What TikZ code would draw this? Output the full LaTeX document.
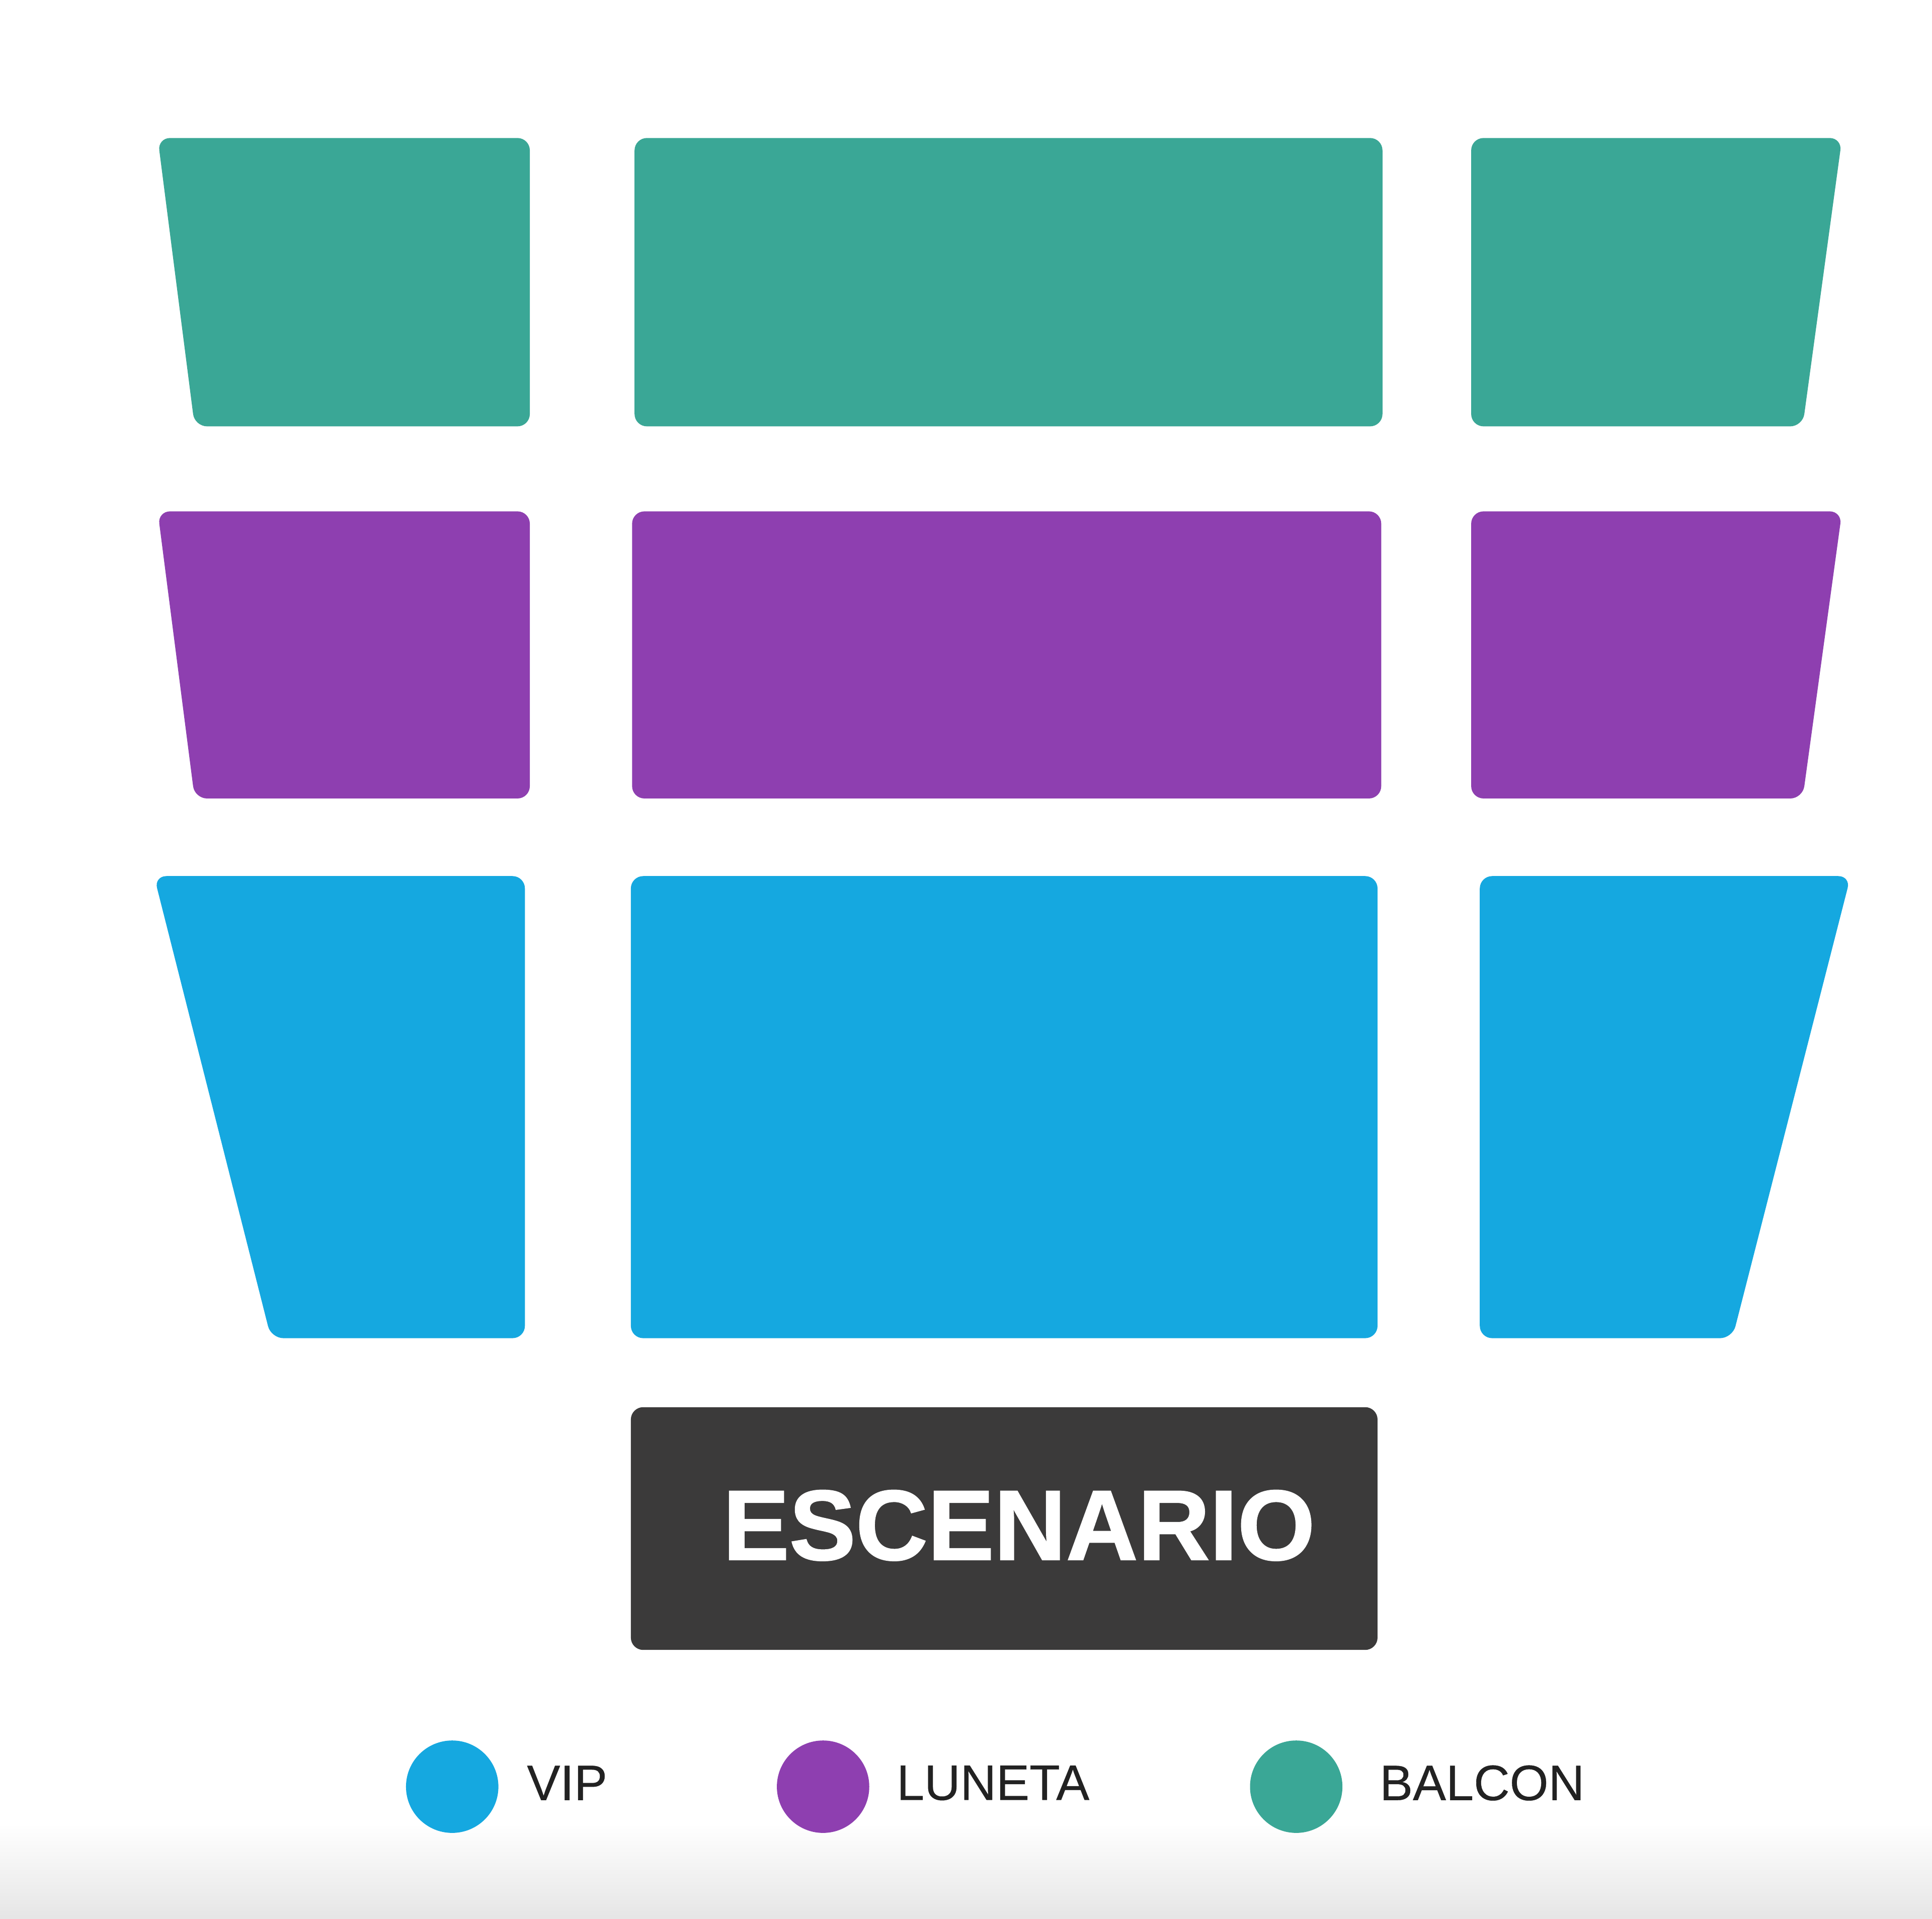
\documentclass[tikz,border=0pt]{standalone}
\usepackage{fontspec}
\setmainfont{Liberation Sans}
\newfontfamily\stagefont[FakeBold=1.2]{Liberation Sans Bold}
\newfontfamily\legfont[FakeBold=0.4]{Liberation Sans}
\definecolor{balcon}{RGB}{58,167,150}
\definecolor{luneta}{RGB}{142,63,176}
\definecolor{vip}{RGB}{21,168,224}
\definecolor{stage}{RGB}{59,58,58}
\definecolor{legtext}{RGB}{34,34,34}
\tikzset{
  seat/.style={rounded corners=1mm},
  legdot/.style={circle, minimum size=7.5mm, inner sep=0pt},
  legtxt/.style={anchor=west, inner sep=0pt, text=legtext, font=\legfont\fontsize{11.5pt}{13pt}\selectfont},
}
\begin{document}
\begin{tikzpicture}[x=0.1mm,y=-0.1mm]
\useasboundingbox (0,0) rectangle (1568,1557);
\fill[white] (0,0) rectangle (1568,1557);
\shade[top color=white, bottom color=black!10] (0,1480) rectangle (1568,1557);
% Balcon
\fill[balcon,seat] (128,112) -- (430,112) -- (430,346) -- (158,346) -- cycle;
\fill[balcon,seat] (515,112) rectangle (1122,346);
\fill[balcon,seat] (1194,112) -- (1495,112) -- (1463,346) -- (1194,346) -- cycle;
% Luneta
\fill[luneta,seat] (128,415) -- (430,415) -- (430,648) -- (158,648) -- cycle;
\fill[luneta,seat] (513,415) rectangle (1121,648);
\fill[luneta,seat] (1194,415) -- (1495,415) -- (1463,648) -- (1194,648) -- cycle;
% VIP
\fill[vip,seat] (125,711) -- (426,711) -- (426,1086) -- (220,1086) -- cycle;
\fill[vip,seat] (512,711) rectangle (1118,1086);
\fill[vip,seat] (1201,711) -- (1502,711) -- (1406,1086) -- (1201,1086) -- cycle;
% Stage
\fill[stage,seat] (512,1142) rectangle (1118,1339);
\node[text=white, inner sep=0pt, font=\stagefont\fontsize{23pt}{25pt}\selectfont] (escenario) at (827,1238) {ESCENARIO};
% Legend
\node[legdot, fill=vip] (dvip) at (367,1450) {};
\node[legtxt] (tvip) at (427,1447) {VIP};
\node[legdot, fill=luneta] (dlun) at (668,1450) {};
\node[legtxt] (tlun) at (727,1447) {LUNETA};
\node[legdot, fill=balcon] (dbal) at (1052,1450) {};
\node[legtxt] (tbal) at (1119,1447) {BALCON};
\end{tikzpicture}
\end{document}
